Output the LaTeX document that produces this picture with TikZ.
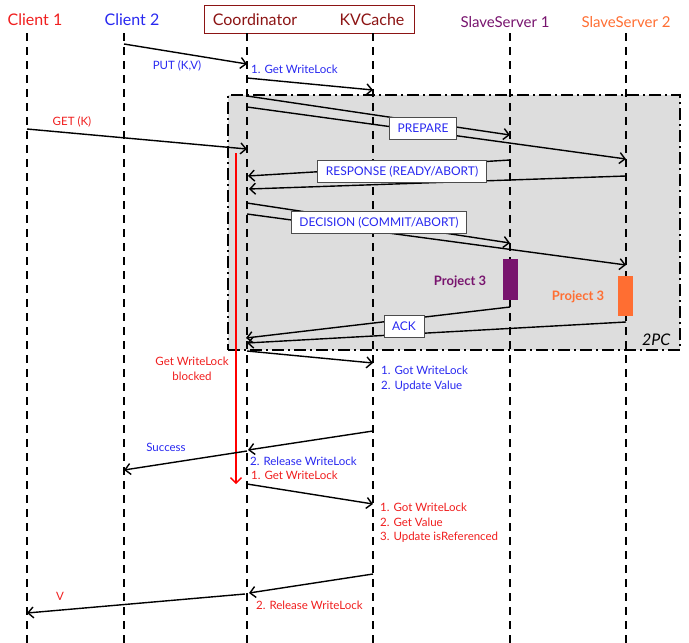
\documentclass[tikz,border=0pt]{standalone}
\usepackage{fontspec}
\setmainfont{Lato}
\usetikzlibrary{arrows.meta,positioning}

\definecolor{cred}{RGB}{240,30,30}
\definecolor{cblue}{RGB}{40,40,240}
\definecolor{hdrred}{RGB}{140,20,20}
\definecolor{slavea}{RGB}{120,20,110}
\definecolor{slaveb}{RGB}{255,110,50}
\definecolor{framegray}{RGB}{221,221,221}

\begin{document}
\begin{tikzpicture}[x=1pt,y=-1pt]

\def\ytop{33}
\def\ybot{643}

\tikzset{lifeline/.style = {draw, line width=1.8pt, dash pattern=on 8pt off 6pt},
         msg/.style = {draw, line width=1.4pt, -{Straight Barb[length=5.5pt,width=11pt]}},
         title/.style = {font=\fontsize{16}{18}\selectfont},
         lbl/.style = {inner sep=0pt, font=\fontsize{11.5}{14.5}\selectfont, align=left},
         tag/.style = {draw=black!70, line width=0.8pt, fill=white, text=cblue, inner xsep=8pt, minimum height=22pt, font=\fontsize{12}{14}\selectfont},
         bar/.style = {draw=none, minimum width=15pt, inner sep=0pt},
         proj/.style = {font=\fontsize{13}{15}\selectfont\bfseries}}

\useasboundingbox (0,0) rectangle (689,643);

% 2PC frame
\node[draw, fill=framegray, line width=1.8pt, dash pattern=on 12pt off 4pt on 2pt off 4pt,
      minimum width=452pt, minimum height=255pt, inner sep=0pt] (frame) at (454,222.5) {};
\node[font=\fontsize{16}{18}\selectfont\itshape, anchor=south east] (twopc) at (674,349) {2PC};

% headers
\node[draw=hdrred, line width=0.8pt, minimum width=210pt, minimum height=28pt] (hdr) at (309,19) {};
\node[title, text=cred] (cl1) at (35,20) {Client 1};
\node[title, text=cblue] (cl2) at (132,20) {Client 2};
\node[title, text=hdrred] (coord) at (255,20) {Coordinator};
\node[title, text=hdrred] (kvc) at (372,20) {KVCache};
\node[title, text=slavea, font=\fontsize{15}{17}\selectfont] (ssa) at (505,22) {SlaveServer 1};
\node[title, text=slaveb, font=\fontsize{15}{17}\selectfont] (ssb) at (626,22) {SlaveServer 2};

% lifelines
\foreach \n/\x in {ca/27, cb/124, co/247, kv/373, sa/510, sb/626} {
  \coordinate (\n top) at (\x,\ytop);
  \coordinate (\n bot) at (\x,\ybot);
  \draw[lifeline] (\n top) -- (\n bot);
}

% Project 3 bars
\node[bar, fill=slavea, minimum height=41pt] (barA) at (510,279.5) {};
\node[bar, fill=slaveb, minimum height=40pt] (barB) at (625,296) {};
\node[proj, text=slavea] (projA) at (460,282) {Project 3};
\node[proj, text=slaveb] (projB) at (578,297) {Project 3};

% PUT
\coordinate (put1) at (124,44);
\coordinate (put2) at (247,64);
\draw[msg] (put1) -- (put2);
\node[lbl, text=cblue] (putl) at (177,66) {PUT (K,V)};
\node[lbl, text=cblue, anchor=west] (gwl1) at (251,69) {1. Get WriteLock};
\coordinate (gw1) at (247,78);
\coordinate (gw2) at (373,90);
\draw[msg] (gw1) -- (gw2);

% PREPARE
\coordinate (pra) at (247,96);
\coordinate (pra2) at (510,135);
\coordinate (prb) at (247,107);
\coordinate (prb2) at (626,159);
\draw[msg] (pra) -- (pra2);
\draw[msg] (prb) -- (prb2);
\node[tag] (prep) at (423,128) {PREPARE};

% GET
\coordinate (get1) at (27,129);
\coordinate (get2) at (247,149);
\draw[msg] (get1) -- (get2);
\node[lbl, text=cred] (getl) at (72,122) {GET (K)};

% RESPONSE
\coordinate (rsa) at (510,160);
\coordinate (rsa2) at (248,176);
\coordinate (rsb) at (626,176);
\coordinate (rsb2) at (249,189);
\draw[msg] (rsa) -- (rsa2);
\draw[msg] (rsb) -- (rsb2);
\node[tag] (resp) at (402,171.5) {RESPONSE (READY/ABORT)};

% DECISION
\coordinate (dca) at (247,203);
\coordinate (dca2) at (510,243);
\coordinate (dcb) at (247,214);
\coordinate (dcb2) at (626,265);
\draw[msg] (dca) -- (dca2);
\draw[msg] (dcb) -- (dcb2);
\node[tag] (deci) at (379,222.5) {DECISION (COMMIT/ABORT)};

% ACK
\coordinate (aka) at (510,307);
\coordinate (aka2) at (246,338);
\coordinate (akb) at (626,322);
\coordinate (akb2) at (247,343);
\draw[msg] (aka) -- (aka2);
\draw[msg] (akb) -- (akb2);
\node[tag] (ack) at (404,326.5) {ACK};

% blocked
\coordinate (blk1) at (236,153);
\coordinate (blk2) at (236,484);
\draw[msg, draw=red, line width=1.3pt] (blk1) -- (blk2);
\node[lbl, text=cred, align=center] (blkl) at (192,369) {Get WriteLock\\blocked};

% update
\coordinate (up1) at (247,351);
\coordinate (up2) at (373,363);
\draw[msg] (up1) -- (up2);
\node[lbl, text=cblue, anchor=north west] (upl) at (381,366) {1. Got WriteLock\\2. Update Value};

% release + success
\coordinate (rl1) at (373,431);
\coordinate (rl2) at (248,450);
\draw[msg] (rl1) -- (rl2);
\coordinate (sc1) at (247,451);
\coordinate (sc2) at (124,470);
\draw[msg] (sc1) -- (sc2);
\node[lbl, text=cblue] (scl) at (166,447) {Success};
\node[lbl, text=cblue, anchor=west] (rll) at (250,461) {2. Release WriteLock};
\node[lbl, text=cred, anchor=west] (gwl2) at (251,475) {1. Get WriteLock};

% read
\coordinate (rd1) at (247,484);
\coordinate (rd2) at (373,504);
\draw[msg] (rd1) -- (rd2);
\node[lbl, text=cred, anchor=north west] (rdl) at (380,503) {1. Got WriteLock\\2. Get Value\\3. Update isReferenced};

% return V
\coordinate (rt1) at (373,574);
\coordinate (rt2) at (249,593);
\draw[msg] (rt1) -- (rt2);
\coordinate (v1) at (245,594);
\coordinate (v2) at (27,613);
\draw[msg] (v1) -- (v2);
\node[lbl, text=cred] (vl) at (60,596) {V};
\node[lbl, text=cred, anchor=west] (rll2) at (256,605) {2. Release WriteLock};

\end{tikzpicture}
\end{document}
